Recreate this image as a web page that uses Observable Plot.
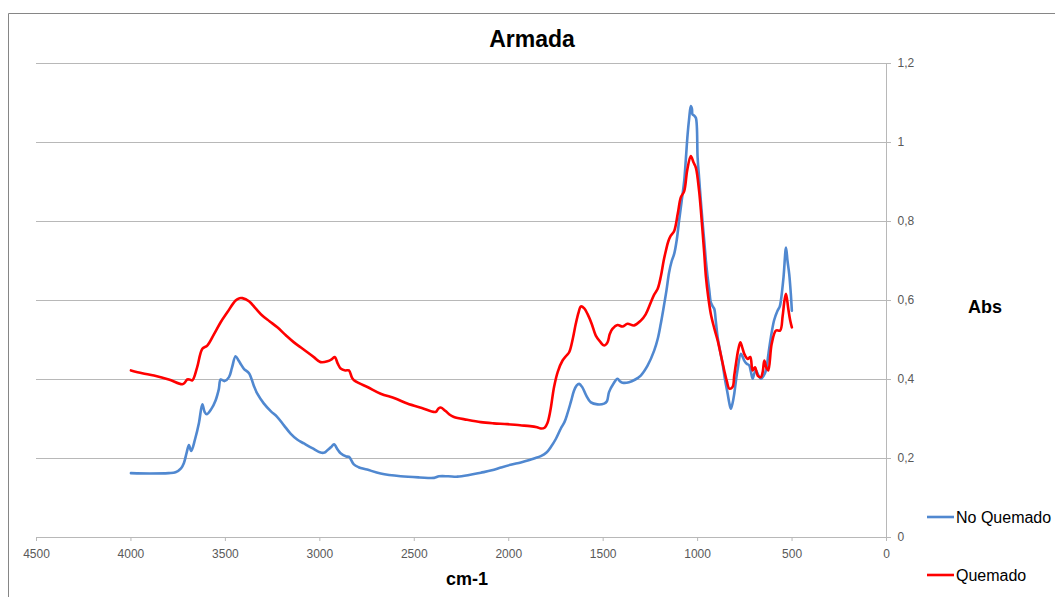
<!DOCTYPE html>
<html>
<head>
<meta charset="utf-8">
<script src="https://cdn.jsdelivr.net/npm/d3@7"></script>
<script src="https://cdn.jsdelivr.net/npm/@observablehq/plot@0.6"></script>
<style>
  html, body { margin: 0; padding: 0; background: #ffffff; }
  #chart svg { display: block; }
</style>
</head>
<body>
<div id="chart"></div>
<script>
// ---- Data ----
const chartTitle = "Armada";
const xLabel = "cm-1";
const yLabel = "Abs";
const seriesNames = ["No Quemado", "Quemado"];
const seriesColors = ["#5088d0", "#ff0000"];
const xTicks = [4500, 4000, 3500, 3000, 2500, 2000, 1500, 1000, 500, 0];
const yTicks = [0, 0.2, 0.4, 0.6, 0.8, 1, 1.2];

const noQuemadoX = [4000,3900,3800,3764,3735,3720,3705,3693,3681,3660,3640,3622,3610,3599,3575,3552,3535,3525,3504,3481,3465,3446,3430,3420,3402,3375,3350,3331,3296,3260,3225,3190,3155,3120,3084,3040,2996,2975,2960,2940,2925,2905,2890,2860,2845,2820,2795,2750,2678,2572,2470,2395,2369,2320,2272,2210,2148,2090,2042,1990,1936,1890,1866,1830,1800,1777,1750,1724,1705,1689,1670,1654,1640,1627,1610,1590,1565,1530,1495,1480,1469,1445,1424,1410,1398,1363,1330,1301,1265,1230,1210,1195,1181,1165,1151,1137,1124,1110,1098,1085,1071,1062,1053,1045,1036,1030,1027,1018,1009,1000,992,983,974,965,956,947,938,930,920,912,903,894,880,868,855,841,832,824,815,806,790,771,762,753,740,727,718,709,700,691,678,665,650,638,625,612,595,577,565,559,545,532,524,515,507,501];
const noQuemadoY = [0.163,0.162,0.163,0.165,0.175,0.188,0.215,0.234,0.219,0.25,0.29,0.337,0.318,0.312,0.325,0.347,0.375,0.40,0.396,0.406,0.43,0.459,0.448,0.44,0.427,0.416,0.385,0.364,0.339,0.32,0.305,0.284,0.263,0.248,0.238,0.226,0.215,0.215,0.221,0.229,0.236,0.222,0.213,0.205,0.204,0.185,0.178,0.172,0.162,0.155,0.152,0.151,0.155,0.155,0.154,0.158,0.164,0.170,0.177,0.184,0.19,0.196,0.2,0.206,0.215,0.229,0.25,0.276,0.292,0.314,0.345,0.372,0.385,0.389,0.38,0.36,0.342,0.337,0.339,0.345,0.368,0.39,0.402,0.395,0.392,0.393,0.40,0.41,0.435,0.473,0.505,0.541,0.579,0.625,0.671,0.70,0.718,0.755,0.802,0.85,0.903,0.96,1.02,1.06,1.092,1.085,1.071,1.068,1.062,0.962,0.91,0.852,0.80,0.751,0.70,0.659,0.625,0.595,0.585,0.579,0.545,0.507,0.47,0.44,0.40,0.364,0.34,0.326,0.34,0.364,0.42,0.465,0.458,0.448,0.44,0.436,0.42,0.402,0.415,0.423,0.41,0.402,0.41,0.423,0.465,0.507,0.55,0.574,0.585,0.60,0.66,0.734,0.70,0.667,0.62,0.574];

const quemadoX = [4000,3940,3878,3800,3728,3715,3702,3690,3675,3650,3622,3596,3560,3525,3490,3446,3425,3410,3375,3340,3305,3265,3225,3180,3137,3100,3066,3030,2996,2960,2935,2921,2905,2890,2865,2846,2830,2819,2790,2748,2678,2600,2537,2460,2387,2373,2360,2334,2310,2290,2220,2148,2080,2007,1940,1887,1850,1830,1810,1795,1780,1760,1740,1715,1695,1680,1660,1645,1630,1618,1600,1583,1560,1539,1515,1495,1477,1465,1451,1424,1398,1371,1336,1301,1275,1248,1230,1212,1195,1180,1168,1155,1142,1124,1105,1089,1071,1055,1036,1022,1009,992,983,974,965,956,944,930,912,894,876,859,845,832,815,806,797,785,774,763,753,735,721,709,696,682,665,655,647,636,626,608,585,563,550,540,532,520,510,501];
const quemadoY = [0.423,0.416,0.41,0.40,0.388,0.392,0.40,0.40,0.398,0.43,0.478,0.486,0.515,0.545,0.57,0.60,0.606,0.606,0.598,0.58,0.562,0.547,0.532,0.512,0.494,0.481,0.469,0.456,0.444,0.446,0.452,0.457,0.44,0.428,0.423,0.423,0.405,0.398,0.39,0.381,0.364,0.352,0.339,0.328,0.318,0.326,0.329,0.32,0.31,0.305,0.298,0.292,0.289,0.287,0.284,0.282,0.279,0.276,0.278,0.29,0.32,0.381,0.42,0.448,0.46,0.469,0.505,0.541,0.57,0.585,0.58,0.566,0.54,0.511,0.495,0.486,0.494,0.515,0.528,0.538,0.534,0.541,0.537,0.549,0.565,0.595,0.615,0.629,0.66,0.70,0.726,0.75,0.764,0.776,0.82,0.861,0.877,0.93,0.966,0.95,0.936,0.877,0.83,0.776,0.72,0.66,0.61,0.566,0.53,0.499,0.46,0.423,0.395,0.377,0.381,0.41,0.44,0.475,0.494,0.48,0.465,0.452,0.457,0.423,0.431,0.41,0.406,0.42,0.448,0.43,0.423,0.49,0.524,0.524,0.56,0.6,0.617,0.579,0.55,0.532];

// ---- Build table ----
const rows = [];
noQuemadoX.forEach((x, i) => rows.push({serie: seriesNames[0], x, y: noQuemadoY[i]}));
quemadoX.forEach((x, i) => rows.push({serie: seriesNames[1], x, y: quemadoY[i]}));

const W = 1055, H = 597;
const fmt = d => String(d).replace(".", ",");

const svg = Plot.plot({
  width: W,
  height: H,
  marginLeft: 36,
  marginRight: 169,
  marginTop: 63,
  marginBottom: 60,
  style: {fontFamily: "'Liberation Sans', Arial, sans-serif", fontSize: "12px", background: "#ffffff", overflow: "visible"},
  x: {domain: [4500, 0], label: null},
  y: {domain: [0, 1.2], label: null},
  color: {domain: seriesNames, range: seriesColors},
  marks: [
    Plot.gridY(yTicks.filter(d => d > 0), {stroke: "#b8b8b8", strokeOpacity: 1}),
    Plot.ruleY([0], {stroke: "#b8b8b8"}),
    Plot.ruleX([0], {stroke: "#b8b8b8"}),
    Plot.axisX(xTicks, {tickSize: 4, tickPadding: 8, stroke: "#b8b8b8", fill: "#595959", label: null, tickFormat: d => String(d)}),
    Plot.axisY(yTicks, {anchor: "right", tickSize: 4, tickPadding: 7, stroke: "#b8b8b8", fill: "#595959", label: null, tickFormat: fmt}),
    Plot.line(rows, {x: "x", y: "y", z: "serie", stroke: "serie", strokeWidth: 2.6, curve: "catmull-rom"})
  ]
});

document.getElementById("chart").appendChild(svg);

const s = d3.select(svg);
// chart frame (left and top edges)
s.append("path").attr("d", `M8.5,${H} V13.5 H${W}`).attr("fill", "none").attr("stroke", "#868686").attr("stroke-width", 1);

// title and axis titles
s.append("text").attr("x", 532).attr("y", 47).attr("text-anchor", "middle")
  .attr("font-size", 23).attr("font-weight", "bold").attr("fill", "#000").text(chartTitle);
s.append("text").attr("x", 467).attr("y", 585).attr("text-anchor", "middle")
  .attr("font-size", 18).attr("font-weight", "bold").attr("fill", "#000").text(xLabel);
s.append("text").attr("x", 985).attr("y", 313).attr("text-anchor", "middle")
  .attr("font-size", 18).attr("font-weight", "bold").attr("fill", "#000").text(yLabel);

// legend
const legendY = [517, 575];
seriesNames.forEach((name, i) => {
  s.append("line").attr("x1", 927).attr("x2", 954).attr("y1", legendY[i]).attr("y2", legendY[i])
    .attr("stroke", seriesColors[i]).attr("stroke-width", 2.6);
  s.append("text").attr("x", 956).attr("y", legendY[i] + 6).attr("font-size", 16)
    .attr("text-anchor", "start").attr("fill", "#000").text(name);
});
</script>
</body>
</html>
